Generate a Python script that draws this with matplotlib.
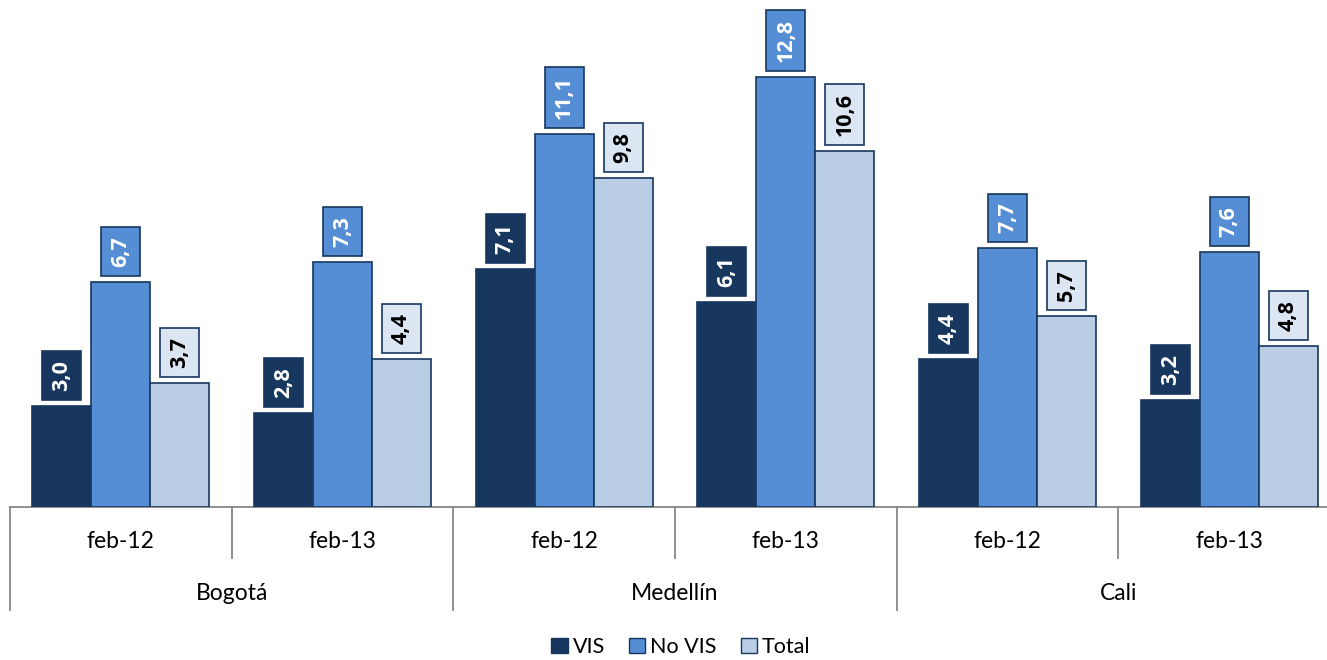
import matplotlib
matplotlib.use("Agg")
import matplotlib.pyplot as plt
import numpy as np
from matplotlib.patches import Patch

plt.rcParams['font.family'] = ['Lato', 'DejaVu Sans']

cities = ["Bogotá", "Medellín", "Cali"]
periods = ["feb-12", "feb-13"]
series_names = ["VIS", "No VIS", "Total"]
vis = [3.0, 2.8, 7.1, 6.1, 4.4, 3.2]
no_vis = [6.7, 7.3, 11.1, 12.8, 7.7, 7.6]
total = [3.7, 4.4, 9.8, 10.6, 5.7, 4.8]

fill_colors = ["#17375E", "#558ED5", "#B9CDE5"]
box_colors = ["#17375E", "#558ED5", "#DCE6F2"]
text_colors = ["white", "white", "black"]
edge = "#17375E"
grid_gray = "#868686"

fig = plt.figure(figsize=(13.27, 6.6), dpi=100)
ax = fig.add_axes([10/1327, 153/660, 1330/1327, 507/660])

n = len(vis)
x = np.arange(n)
w = 0.266
data = [vis, no_vis, total]
label_fs = 15.5
pad = 0.42
pad_px = pad * label_fs * 100 / 72
for i, vals in enumerate(data):
    pos = x + (i - 1) * w
    ax.bar(pos, vals, width=w, color=fill_colors[i], edgecolor=edge,
           linewidth=1.2, label=series_names[i], zorder=2)
    for xp, v in zip(pos, vals):
        ax.annotate(f"{v:.1f}".replace(".", ","), xy=(xp, v),
                    xytext=(0, (6 + pad_px) * 0.72),
                    textcoords="offset points", rotation=90, ha="center", va="bottom",
                    fontsize=label_fs, fontweight="bold", color=text_colors[i],
                    family=["Open Sans", "DejaVu Sans"],
                    bbox=dict(boxstyle=f"square,pad={pad}", fc=box_colors[i], ec=edge, lw=1.2),
                    zorder=3)

ax.set_xlim(-0.5, n - 0.5)
ax.set_ylim(0, 15.1)
for s in ax.spines.values():
    s.set_visible(False)
ax.set_xticks([])
ax.set_yticks([])

ax.plot([-0.5, n - 0.5], [0, 0], color=grid_gray, lw=1.3, clip_on=False, zorder=1)
trans = ax.get_xaxis_transform()
for b in range(n + 1):
    xb = b - 0.5
    y1 = -103/507 if b % 2 == 0 else -51/507
    ax.plot([xb, xb], [0, y1], color=grid_gray, lw=1.3, transform=trans, clip_on=False)

for k in range(n):
    ax.text(k, -35/507, periods[k % 2], transform=trans, ha="center", va="center", fontsize=16.5)
for c, city in enumerate(cities):
    ax.text(2 * c + 0.5, -86/507, city, transform=trans, ha="center", va="center", fontsize=16.5)

handles = [Patch(facecolor=fill_colors[i], edgecolor=edge, label=series_names[i]) for i in range(3)]
fig.legend(handles=handles, loc="center", bbox_to_anchor=(681/1327, 1 - 647/660), ncol=3,
           frameon=False, fontsize=15.5, handlelength=0.75, handleheight=0.75,
           handletextpad=0.25, columnspacing=1.1)

fig.savefig("out.png", dpi=100)
